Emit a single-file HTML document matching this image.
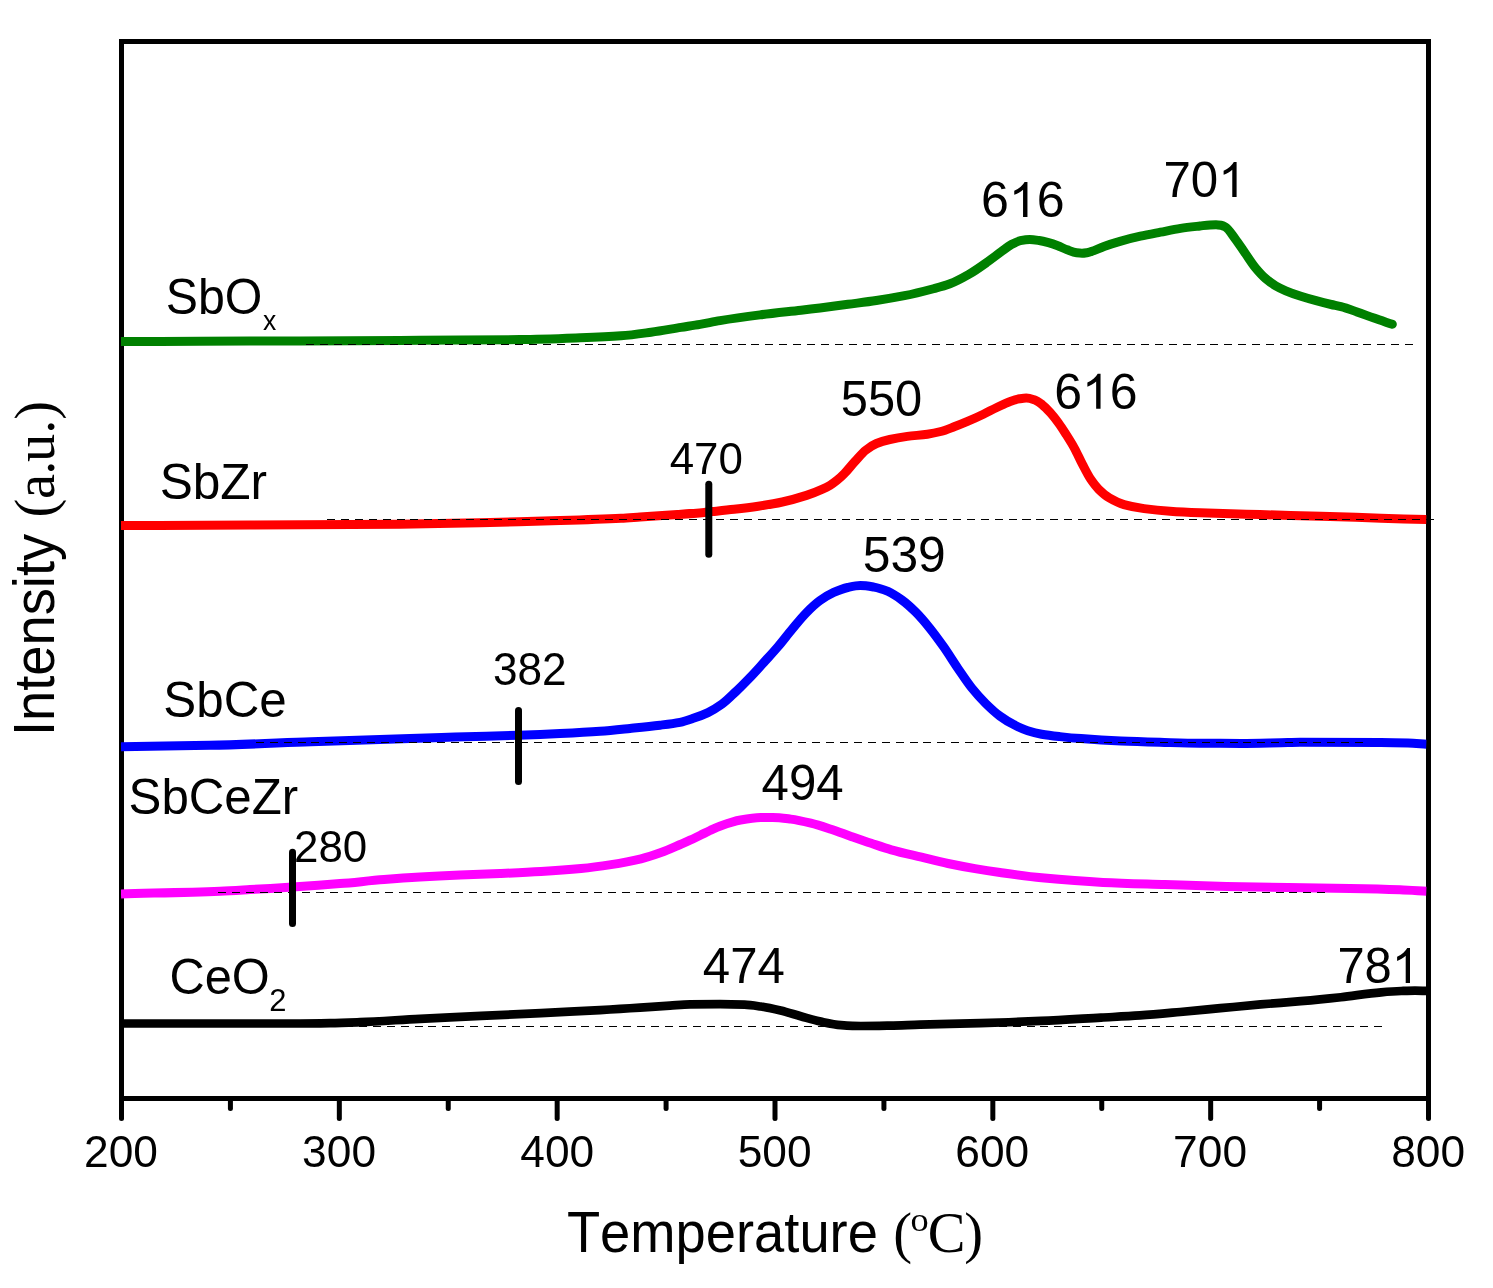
<!DOCTYPE html>
<html><head><meta charset="utf-8"><title>H2-TPR profiles</title>
<style>html,body{margin:0;padding:0;background:#fff;}svg{display:block;}text{font-family:"Liberation Sans",sans-serif;fill:#000;font-kerning:none;}.se{font-family:"Liberation Serif",serif;}</style></head><body>
<svg width="1493" height="1288" viewBox="0 0 1493 1288">
<rect x="0" y="0" width="1493" height="1288" fill="#fff"/>
<rect x="121.5" y="41.5" width="1307.0" height="1057.0" fill="none" stroke="#000" stroke-width="5"/>
<line x1="121.50" y1="1098.5" x2="121.50" y2="1118.5" stroke="#000" stroke-width="5" stroke-linecap="round"/>
<line x1="230.42" y1="1098.5" x2="230.42" y2="1108.5" stroke="#000" stroke-width="5" stroke-linecap="round"/>
<line x1="339.33" y1="1098.5" x2="339.33" y2="1118.5" stroke="#000" stroke-width="5" stroke-linecap="round"/>
<line x1="448.25" y1="1098.5" x2="448.25" y2="1108.5" stroke="#000" stroke-width="5" stroke-linecap="round"/>
<line x1="557.17" y1="1098.5" x2="557.17" y2="1118.5" stroke="#000" stroke-width="5" stroke-linecap="round"/>
<line x1="666.08" y1="1098.5" x2="666.08" y2="1108.5" stroke="#000" stroke-width="5" stroke-linecap="round"/>
<line x1="775.00" y1="1098.5" x2="775.00" y2="1118.5" stroke="#000" stroke-width="5" stroke-linecap="round"/>
<line x1="883.92" y1="1098.5" x2="883.92" y2="1108.5" stroke="#000" stroke-width="5" stroke-linecap="round"/>
<line x1="992.83" y1="1098.5" x2="992.83" y2="1118.5" stroke="#000" stroke-width="5" stroke-linecap="round"/>
<line x1="1101.75" y1="1098.5" x2="1101.75" y2="1108.5" stroke="#000" stroke-width="5" stroke-linecap="round"/>
<line x1="1210.67" y1="1098.5" x2="1210.67" y2="1118.5" stroke="#000" stroke-width="5" stroke-linecap="round"/>
<line x1="1319.58" y1="1098.5" x2="1319.58" y2="1108.5" stroke="#000" stroke-width="5" stroke-linecap="round"/>
<line x1="1428.50" y1="1098.5" x2="1428.50" y2="1118.5" stroke="#000" stroke-width="5" stroke-linecap="round"/>
<clipPath id="cp"><rect x="121" y="40" width="1305.6" height="1060"/></clipPath><g clip-path="url(#cp)">
<path d="M121.0 341.5 C147.3 341.43 173.7 341.38 200.0 341.30 C233.3 341.20 266.7 341.05 300.0 340.90 C333.3 340.75 366.7 340.57 400.0 340.40 C420.0 340.30 440.0 340.23 460.0 340.10 C480.0 339.98 500.0 339.86 520.0 339.60 C540.0 339.34 560.0 338.55 580.0 337.80 C593.7 337.28 607.3 336.77 621.0 335.80 C631.0 335.09 641.0 333.57 651.0 332.20 C661.0 330.83 671.0 328.99 681.0 327.40 C687.3 326.39 693.7 325.49 700.0 324.40 C706.7 323.25 713.3 321.70 720.0 320.60 C733.3 318.39 746.7 316.59 760.0 314.90 C773.7 313.16 787.3 311.78 801.0 310.20 C807.3 309.47 813.7 308.78 820.0 308.00 C829.3 306.85 838.7 305.54 848.0 304.30 C857.4 303.04 866.9 301.92 876.3 300.50 C885.7 299.09 895.0 297.56 904.4 295.70 C913.8 293.84 923.1 291.50 932.5 289.00 C938.3 287.44 944.2 285.97 950.0 283.80 C956.3 281.47 962.5 277.99 968.8 274.40 C975.0 270.83 981.3 266.30 987.5 261.90 C992.2 258.58 996.9 254.79 1001.6 251.40 C1004.7 249.14 1007.9 246.50 1011.0 244.80 C1014.1 243.12 1017.2 241.31 1020.3 240.70 C1023.4 240.08 1026.6 239.50 1029.7 239.50 C1032.8 239.50 1036.0 240.04 1039.1 240.50 C1042.2 240.96 1045.4 241.84 1048.5 242.70 C1051.6 243.55 1054.7 244.64 1057.8 245.80 C1060.9 246.97 1064.1 248.66 1067.2 249.80 C1070.3 250.94 1073.5 252.44 1076.6 252.80 C1078.4 253.00 1080.2 253.20 1082.0 253.20 C1083.7 253.20 1085.3 252.95 1087.0 252.70 C1088.3 252.50 1089.7 252.02 1091.0 251.60 C1095.3 250.23 1099.7 247.94 1104.0 246.40 C1109.3 244.50 1114.7 242.80 1120.0 241.30 C1126.8 239.39 1133.6 237.71 1140.4 236.20 C1147.1 234.72 1153.8 233.50 1160.5 232.20 C1167.2 230.90 1173.9 229.40 1180.6 228.40 C1187.1 227.43 1193.5 226.75 1200.0 226.00 C1203.3 225.61 1206.7 225.06 1210.0 224.90 C1212.0 224.80 1214.0 224.70 1216.0 224.70 C1217.7 224.70 1219.3 224.99 1221.0 225.30 C1222.4 225.56 1223.8 226.15 1225.2 226.90 C1228.6 228.71 1231.9 234.51 1235.3 238.90 C1238.7 243.29 1242.0 248.68 1245.4 253.50 C1248.8 258.32 1252.1 263.72 1255.5 267.80 C1258.9 271.88 1262.2 275.61 1265.6 278.50 C1269.0 281.39 1272.3 283.82 1275.7 285.80 C1279.1 287.78 1282.4 289.37 1285.8 290.80 C1290.8 292.93 1295.9 294.68 1300.9 296.30 C1306.0 297.93 1311.0 299.34 1316.1 300.70 C1321.1 302.06 1326.2 303.34 1331.2 304.50 C1334.5 305.25 1337.7 305.76 1341.0 306.60 C1346.3 307.96 1351.7 310.05 1357.0 311.90 C1362.7 313.87 1368.3 316.11 1374.0 318.10 C1380.1 320.24 1386.2 322.23 1392.3 324.30" fill="none" stroke="#008000" stroke-width="9.0" stroke-linecap="round" stroke-linejoin="round"/>
<path d="M121.0 525.5 C164.0 525.37 207.0 525.27 250.0 525.10 C300.0 524.90 350.0 524.68 400.0 524.20 C426.7 523.94 453.3 523.28 480.0 522.70 C506.7 522.12 533.3 521.43 560.0 520.60 C580.3 519.97 600.7 519.34 621.0 518.30 C627.3 517.98 633.7 517.43 640.0 517.00 C652.5 516.15 665.0 515.40 677.5 514.50 C686.4 513.85 695.4 513.20 704.3 512.40 C707.0 512.16 709.7 511.87 712.4 511.60 C719.6 510.86 726.9 510.14 734.1 509.30 C742.1 508.37 750.2 507.39 758.2 506.20 C766.2 505.01 774.3 503.71 782.3 502.00 C790.4 500.28 798.4 498.03 806.5 495.40 C811.8 493.66 817.2 491.50 822.5 489.10 C825.0 487.98 827.5 486.78 830.0 485.30 C832.3 483.91 834.7 482.17 837.0 480.30 C839.4 478.35 841.9 476.06 844.3 473.60 C847.9 470.00 851.4 465.29 855.0 461.40 C858.6 457.51 862.1 452.98 865.7 450.20 C869.3 447.39 872.9 444.98 876.5 443.50 C880.9 441.68 885.4 440.50 889.8 439.50 C895.6 438.18 901.5 437.19 907.3 436.40 C914.0 435.49 920.7 435.17 927.4 434.20 C931.9 433.55 936.3 432.65 940.8 431.50 C945.2 430.36 949.7 428.47 954.1 426.80 C958.6 425.12 963.0 423.30 967.5 421.40 C972.8 419.14 978.1 416.72 983.4 414.20 C987.9 412.07 992.3 409.63 996.8 407.50 C1001.3 405.37 1005.7 402.92 1010.2 401.40 C1013.3 400.34 1016.5 399.26 1019.6 398.80 C1021.8 398.47 1024.1 398.10 1026.3 398.10 C1029.0 398.10 1031.6 398.95 1034.3 399.80 C1037.0 400.65 1039.6 402.76 1042.3 404.80 C1045.0 406.87 1047.7 409.81 1050.4 412.80 C1053.1 415.76 1055.7 419.24 1058.4 422.90 C1061.1 426.56 1063.7 430.70 1066.4 434.90 C1069.1 439.15 1071.8 443.40 1074.5 448.30 C1077.2 453.14 1079.8 459.31 1082.5 464.40 C1085.2 469.55 1087.9 475.08 1090.6 479.10 C1093.3 483.07 1095.9 486.53 1098.6 489.20 C1102.2 492.77 1105.7 495.79 1109.3 497.90 C1114.2 500.81 1119.1 503.21 1124.0 504.60 C1130.7 506.49 1137.4 507.67 1144.1 508.60 C1152.7 509.80 1161.4 510.71 1170.0 511.30 C1180.0 511.98 1190.0 512.41 1200.0 512.80 C1220.0 513.57 1240.0 514.04 1260.0 514.60 C1280.3 515.17 1300.7 515.60 1321.0 516.20 C1341.0 516.79 1361.0 517.56 1381.0 518.20 C1396.2 518.68 1411.3 519.13 1426.5 519.60" fill="none" stroke="#ff0000" stroke-width="9.0" stroke-linecap="butt" stroke-linejoin="round"/>
<path d="M121.0 746.7 C150.7 746.23 180.3 745.94 210.0 745.30 C243.7 744.58 277.3 742.96 311.0 741.80 C344.0 740.66 377.0 739.42 410.0 738.40 C425.0 737.93 440.0 737.53 455.0 737.10 C476.2 736.49 497.3 736.04 518.5 735.30 C532.3 734.82 546.2 734.18 560.0 733.50 C573.3 732.84 586.7 732.16 600.0 731.20 C610.0 730.48 620.0 729.40 630.0 728.40 C640.0 727.40 650.0 726.44 660.0 725.20 C666.7 724.37 673.3 723.63 680.0 722.30 C684.7 721.37 689.3 719.69 694.0 718.10 C698.7 716.51 703.3 714.82 708.0 712.60 C712.6 710.39 717.3 707.55 721.9 704.20 C726.6 700.83 731.2 696.02 735.9 691.60 C740.6 687.18 745.2 682.46 749.9 677.60 C754.6 672.74 759.2 667.53 763.9 662.40 C768.5 657.30 773.2 652.33 777.8 646.90 C782.5 641.43 787.1 635.20 791.8 629.60 C796.5 624.00 801.1 618.04 805.8 613.30 C810.5 608.56 815.1 604.05 819.8 600.70 C824.4 597.37 829.1 594.45 833.7 592.40 C838.4 590.34 843.0 588.48 847.7 587.50 C851.9 586.62 856.1 585.60 860.3 585.60 C864.9 585.60 869.4 586.36 874.0 587.10 C878.7 587.85 883.3 589.48 888.0 591.40 C892.6 593.30 897.3 596.64 901.9 600.00 C906.6 603.39 911.2 607.66 915.9 612.30 C920.6 616.94 925.2 622.52 929.9 628.30 C934.6 634.08 939.2 640.55 943.9 647.20 C948.5 653.81 953.2 661.43 957.8 668.20 C962.5 675.02 967.1 682.18 971.8 688.00 C976.5 693.82 981.1 698.99 985.8 703.60 C990.5 708.21 995.1 712.60 999.8 716.00 C1004.4 719.37 1009.1 722.23 1013.7 724.60 C1018.4 726.99 1023.0 729.22 1027.7 730.70 C1032.4 732.18 1037.0 733.39 1041.7 734.20 C1047.8 735.26 1053.9 735.92 1060.0 736.60 C1067.0 737.38 1074.0 738.07 1081.0 738.60 C1094.3 739.61 1107.7 740.43 1121.0 741.00 C1134.0 741.56 1147.0 741.93 1160.0 742.30 C1173.3 742.68 1186.7 743.24 1200.0 743.30 C1213.7 743.36 1227.3 743.40 1241.0 743.40 C1254.3 743.40 1267.7 742.96 1281.0 742.70 C1287.3 742.58 1293.7 742.30 1300.0 742.30 C1327.0 742.30 1354.0 742.33 1381.0 742.40 C1390.0 742.42 1399.0 742.63 1408.0 742.90 C1414.2 743.09 1420.3 743.77 1426.5 744.20" fill="none" stroke="#0000ff" stroke-width="9.0" stroke-linecap="butt" stroke-linejoin="round"/>
<path d="M121.0 893.9 C154.0 893.00 187.0 892.46 220.0 891.20 C230.0 890.82 240.0 890.17 250.0 889.60 C264.2 888.80 278.3 887.93 292.5 887.00 C308.3 885.96 324.2 884.87 340.0 883.60 C354.7 882.42 369.3 880.75 384.0 879.60 C396.0 878.66 408.0 877.80 420.0 877.10 C433.3 876.32 446.7 875.69 460.0 875.10 C473.3 874.51 486.7 874.09 500.0 873.50 C513.7 872.90 527.3 872.31 541.0 871.50 C554.3 870.71 567.7 869.78 581.0 868.50 C591.0 867.54 601.0 866.15 611.0 864.60 C621.0 863.05 631.0 861.22 641.0 858.80 C647.7 857.19 654.3 854.98 661.0 852.60 C667.4 850.30 673.9 847.28 680.3 844.50 C683.5 843.10 686.8 841.69 690.0 840.20 C693.5 838.60 696.9 836.88 700.4 835.20 C703.6 833.65 706.8 831.98 710.0 830.50 C713.5 828.88 717.0 827.16 720.5 825.90 C727.2 823.50 733.9 821.14 740.6 820.00 C747.3 818.86 754.0 817.78 760.7 817.60 C764.7 817.49 768.7 817.40 772.7 817.40 C778.7 817.40 784.8 818.33 790.8 819.10 C797.5 819.96 804.2 821.57 810.9 823.20 C817.6 824.83 824.3 827.11 831.0 829.30 C837.7 831.49 844.4 834.07 851.1 836.40 C857.8 838.73 864.5 841.07 871.2 843.30 C877.9 845.53 884.6 847.91 891.3 849.80 C901.4 852.63 911.4 854.77 921.5 857.20 C930.3 859.33 939.2 861.64 948.0 863.50 C957.0 865.40 966.0 867.06 975.0 868.60 C983.3 870.02 991.7 871.32 1000.0 872.50 C1013.9 874.46 1027.7 876.47 1041.6 877.80 C1062.1 879.76 1082.5 881.44 1103.0 882.40 C1123.7 883.36 1144.3 883.83 1165.0 884.50 C1185.5 885.16 1206.0 885.91 1226.5 886.40 C1247.0 886.89 1267.5 887.26 1288.0 887.60 C1308.7 887.94 1329.3 888.11 1350.0 888.50 C1366.7 888.81 1383.3 889.18 1400.0 889.80 C1408.8 890.13 1417.7 890.80 1426.5 891.30" fill="none" stroke="#ff00ff" stroke-width="9.0" stroke-linecap="butt" stroke-linejoin="round"/>
<path d="M121.0 1023.5 C180.7 1023.50 240.3 1023.50 300.0 1023.50 C310.0 1023.50 320.0 1023.35 330.0 1023.20 C340.0 1023.05 350.0 1022.61 360.0 1022.20 C380.0 1021.38 400.0 1019.83 420.0 1018.80 C440.3 1017.75 460.7 1016.86 481.0 1015.90 C501.0 1014.96 521.0 1014.07 541.0 1013.10 C560.7 1012.14 580.3 1011.20 600.0 1010.10 C606.7 1009.73 613.3 1009.32 620.0 1008.90 C626.7 1008.48 633.3 1008.04 640.0 1007.60 C650.0 1006.94 660.0 1006.23 670.0 1005.60 C676.7 1005.18 683.3 1004.48 690.0 1004.40 C700.0 1004.27 710.0 1004.20 720.0 1004.20 C728.2 1004.20 736.3 1004.40 744.5 1004.70 C749.9 1004.89 755.2 1005.74 760.6 1006.50 C767.3 1007.45 773.9 1008.94 780.6 1010.50 C787.3 1012.07 794.0 1014.35 800.7 1016.20 C807.4 1018.05 814.1 1020.19 820.8 1021.60 C827.5 1023.02 834.3 1024.62 841.0 1025.10 C847.7 1025.58 854.3 1026.00 861.0 1026.00 C870.7 1026.00 880.3 1025.79 890.0 1025.60 C900.0 1025.41 910.0 1024.88 920.0 1024.60 C940.2 1024.04 960.4 1023.78 980.6 1023.20 C1000.7 1022.62 1020.7 1021.80 1040.8 1020.90 C1060.9 1020.00 1080.9 1018.72 1101.0 1017.60 C1114.0 1016.88 1127.0 1016.28 1140.0 1015.40 C1153.4 1014.49 1166.8 1013.20 1180.2 1012.00 C1193.6 1010.80 1207.0 1009.47 1220.4 1008.20 C1233.8 1006.93 1247.2 1005.56 1260.6 1004.40 C1274.0 1003.24 1287.3 1002.36 1300.7 1001.20 C1307.1 1000.64 1313.6 1000.04 1320.0 999.40 C1327.0 998.71 1333.9 997.98 1340.9 997.20 C1354.3 995.70 1367.7 993.40 1381.1 992.30 C1387.8 991.75 1394.5 991.26 1401.2 991.00 C1405.8 990.82 1410.4 990.60 1415.0 990.60 C1418.8 990.60 1422.7 990.80 1426.5 990.90" fill="none" stroke="#000000" stroke-width="8.7" stroke-linecap="butt" stroke-linejoin="round"/>
</g>
<line x1="306.3" y1="344.5" x2="1413.0" y2="344.5" stroke="#000" stroke-width="1" stroke-dasharray="8 5.91" shape-rendering="crispEdges"/>
<line x1="327.0" y1="519.5" x2="1433.7" y2="519.5" stroke="#000" stroke-width="1" stroke-dasharray="8 5.91" shape-rendering="crispEdges"/>
<line x1="255.8" y1="742.5" x2="1362.5" y2="742.5" stroke="#000" stroke-width="1" stroke-dasharray="8 5.91" shape-rendering="crispEdges"/>
<line x1="218.4" y1="892.5" x2="1325.1" y2="892.5" stroke="#000" stroke-width="1" stroke-dasharray="8 5.91" shape-rendering="crispEdges"/>
<line x1="275.4" y1="1026.5" x2="1382.1" y2="1026.5" stroke="#000" stroke-width="1" stroke-dasharray="8 5.91" shape-rendering="crispEdges"/>
<line x1="708.8" y1="484.3" x2="708.8" y2="554.3" stroke="#000" stroke-width="7" stroke-linecap="round"/>
<line x1="518.5" y1="710.4" x2="518.5" y2="781.5" stroke="#000" stroke-width="7" stroke-linecap="round"/>
<line x1="292.5" y1="852.3" x2="292.5" y2="923.4" stroke="#000" stroke-width="7" stroke-linecap="round"/>
<g opacity="0.999">
<text transform="translate(83.97 1167.40) scale(0.9850 1)" font-size="45">2</text><text transform="translate(108.63 1167.40) scale(0.9850 1)" font-size="45">0</text><text transform="translate(133.28 1167.40) scale(0.9850 1)" font-size="45">0</text>
<text transform="translate(302.08 1167.40) scale(0.9850 1)" font-size="45">3</text><text transform="translate(326.73 1167.40) scale(0.9850 1)" font-size="45">0</text><text transform="translate(351.38 1167.40) scale(0.9850 1)" font-size="45">0</text>
<text transform="translate(520.25 1167.40) scale(0.9850 1)" font-size="45">4</text><text transform="translate(544.90 1167.40) scale(0.9850 1)" font-size="45">0</text><text transform="translate(569.55 1167.40) scale(0.9850 1)" font-size="45">0</text>
<text transform="translate(737.70 1167.40) scale(0.9850 1)" font-size="45">5</text><text transform="translate(762.35 1167.40) scale(0.9850 1)" font-size="45">0</text><text transform="translate(787.00 1167.40) scale(0.9850 1)" font-size="45">0</text>
<text transform="translate(955.30 1167.40) scale(0.9850 1)" font-size="45">6</text><text transform="translate(979.95 1167.40) scale(0.9850 1)" font-size="45">0</text><text transform="translate(1004.60 1167.40) scale(0.9850 1)" font-size="45">0</text>
<text transform="translate(1173.12 1167.40) scale(0.9850 1)" font-size="45">7</text><text transform="translate(1197.77 1167.40) scale(0.9850 1)" font-size="45">0</text><text transform="translate(1222.42 1167.40) scale(0.9850 1)" font-size="45">0</text>
<text transform="translate(1391.13 1167.40) scale(0.9850 1)" font-size="45">8</text><text transform="translate(1415.78 1167.40) scale(0.9850 1)" font-size="45">0</text><text transform="translate(1440.43 1167.40) scale(0.9850 1)" font-size="45">0</text>
<text transform="translate(980.96 216.90) scale(1.0014 1)" font-size="50">6</text><path transform="translate(1008.80 216.90) scale(0.02445 -0.02372)" d="M763 0H583V1147Q518 1085 412.5 1023T223 930V1104Q374 1175 487 1276T647 1472H763Z" fill="#000"/><text transform="translate(1036.65 216.90) scale(1.0014 1)" font-size="50">6</text>
<text transform="translate(1163.48 196.90) scale(0.9849 1)" font-size="50">7</text><text transform="translate(1190.86 196.90) scale(0.9849 1)" font-size="50">0</text><path transform="translate(1218.25 196.90) scale(0.02405 -0.02372)" d="M763 0H583V1147Q518 1085 412.5 1023T223 930V1104Q374 1175 487 1276T647 1472H763Z" fill="#000"/>
<text transform="translate(840.74 416.00) scale(0.9778 1)" font-size="50">5</text><text transform="translate(867.93 416.00) scale(0.9778 1)" font-size="50">5</text><text transform="translate(895.12 416.00) scale(0.9778 1)" font-size="50">0</text>
<text transform="translate(1054.16 408.70) scale(0.9989 1)" font-size="50">6</text><path transform="translate(1081.94 408.70) scale(0.02439 -0.02372)" d="M763 0H583V1147Q518 1085 412.5 1023T223 930V1104Q374 1175 487 1276T647 1472H763Z" fill="#000"/><text transform="translate(1109.72 408.70) scale(0.9989 1)" font-size="50">6</text>
<text transform="translate(862.71 571.70) scale(0.9955 1)" font-size="50">5</text><text transform="translate(890.39 571.70) scale(0.9955 1)" font-size="50">3</text><text transform="translate(918.07 571.70) scale(0.9955 1)" font-size="50">9</text>
<text transform="translate(761.57 799.70) scale(0.9838 1)" font-size="50">4</text><text transform="translate(788.93 799.70) scale(0.9838 1)" font-size="50">9</text><text transform="translate(816.28 799.70) scale(0.9838 1)" font-size="50">4</text>
<text transform="translate(702.77 983.00) scale(0.9838 1)" font-size="50">4</text><text transform="translate(730.13 983.00) scale(0.9838 1)" font-size="50">7</text><text transform="translate(757.48 983.00) scale(0.9838 1)" font-size="50">4</text>
<text transform="translate(1337.39 983.00) scale(0.9780 1)" font-size="50">7</text><text transform="translate(1364.59 983.00) scale(0.9780 1)" font-size="50">8</text><path transform="translate(1391.78 983.00) scale(0.02388 -0.02372)" d="M763 0H583V1147Q518 1085 412.5 1023T223 930V1104Q374 1175 487 1276T647 1472H763Z" fill="#000"/>
<text transform="translate(669.69 474.30) scale(0.9688 1)" font-size="45.3">4</text><text transform="translate(694.10 474.30) scale(0.9688 1)" font-size="45.3">7</text><text transform="translate(718.51 474.30) scale(0.9688 1)" font-size="45.3">0</text>
<text transform="translate(492.92 685.20) scale(0.9752 1)" font-size="45.3">3</text><text transform="translate(517.49 685.20) scale(0.9752 1)" font-size="45.3">8</text><text transform="translate(542.05 685.20) scale(0.9752 1)" font-size="45.3">2</text>
<text transform="translate(293.99 861.60) scale(0.9688 1)" font-size="45.3">2</text><text transform="translate(318.40 861.60) scale(0.9688 1)" font-size="45.3">8</text><text transform="translate(342.81 861.60) scale(0.9688 1)" font-size="45.3">0</text>
<text transform="translate(165.71 313.60) scale(0.9598 1)" font-size="50.3">SbO</text>
<text transform="translate(263.00 330.30) scale(0.9322 1)" font-size="28.5">x</text>
<text transform="translate(159.65 498.90) scale(0.9860 1)" font-size="50.3">SbZr</text>
<text transform="translate(163.36 716.70) scale(0.9810 1)" font-size="50.3">SbCe</text>
<text transform="translate(128.57 813.50) scale(0.9784 1)" font-size="50.3">SbCeZr</text>
<text transform="translate(169.42 994.30) scale(0.9699 1)" font-size="50.3">CeO</text>
<text transform="translate(269.14 1011.00) scale(1.0082 1)" font-size="30.7">2</text>
<text transform="translate(566.88 1252.00) scale(0.9336 1)" font-size="58.2">Temperature</text>
<text class="se" x="893.22" y="1252.00" font-size="56.5">(</text>
<text class="se" transform="translate(910.51 1231.2) scale(1 0.93)" font-size="36.4">o</text>
<text class="se" x="927.68" y="1252.00" font-size="56.5">C</text>
<text class="se" x="964.18" y="1252.00" font-size="56.5">)</text>
<g transform="translate(54 740.0) rotate(-90)">
<text transform="translate(3.89 0.00) scale(0.9335 1)" font-size="58.2">Intensity</text>
<text class="se" x="222.52" y="0.00" font-size="56.5">(</text>
<text class="se" x="240.91" y="0.00" font-size="56.5">a</text>
<text class="se" x="265.28" y="0.00" font-size="56.5">.</text>
<text class="se" x="278.06" y="0.00" font-size="56.5">u</text>
<text class="se" x="306.28" y="0.00" font-size="56.5">.</text>
<text class="se" x="320.18" y="0.00" font-size="56.5">)</text>
</g>
</g>
</svg></body></html>
